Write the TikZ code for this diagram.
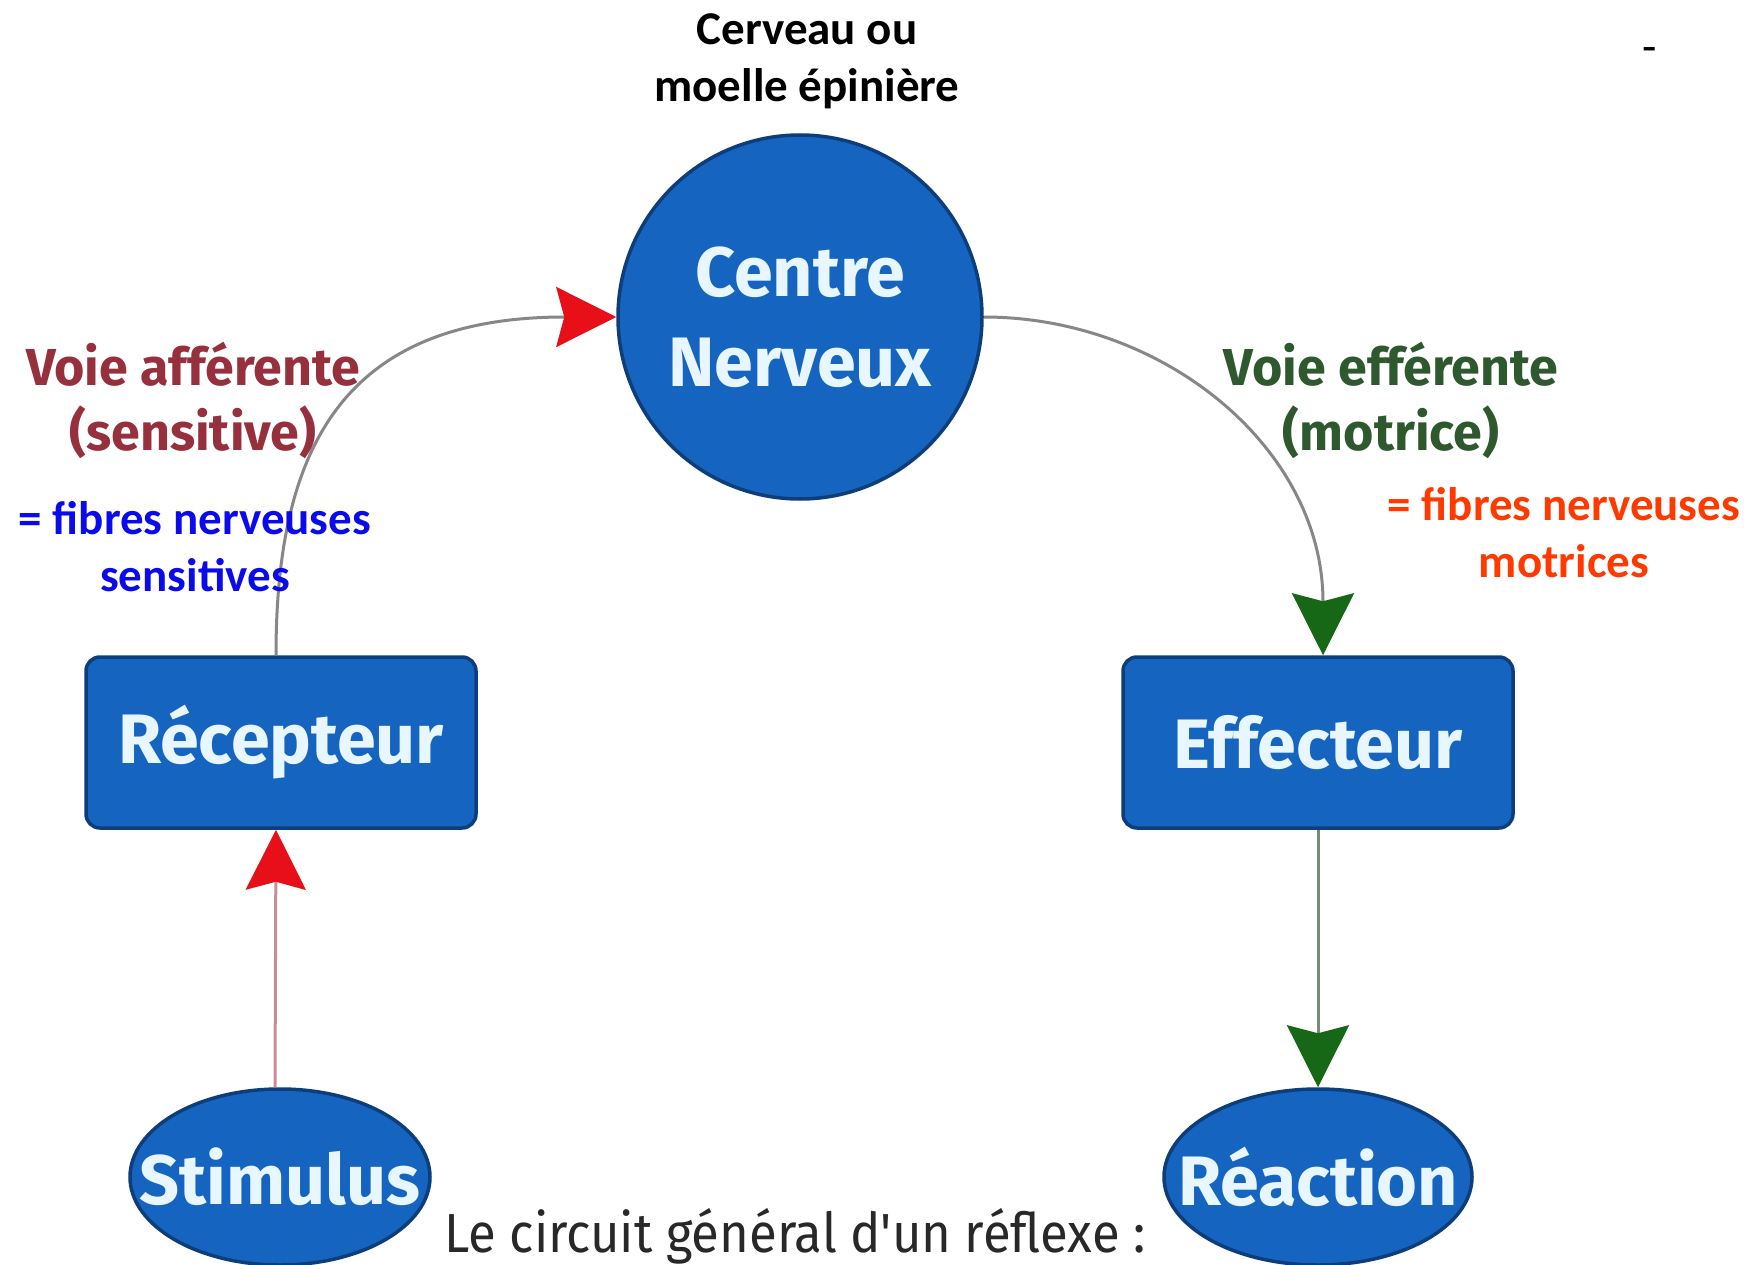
\documentclass[tikz,border=0pt]{standalone}
\usepackage{graphicx}
\usepackage{fontspec}
\setmainfont{Carlito}
\newfontfamily\labfont{Fira Sans}
\usetikzlibrary{arrows.meta,shapes.geometric}
\definecolor{nodeblue}{RGB}{21,101,192}
\definecolor{nodeborder}{RGB}{14,62,122}
\definecolor{nodetext}{RGB}{232,246,255}
\definecolor{affred}{RGB}{150,48,60}
\definecolor{effgreen}{RGB}{46,88,46}
\definecolor{annblue}{RGB}{10,10,235}
\definecolor{annorange}{RGB}{255,58,0}
\definecolor{tipred}{RGB}{232,16,24}
\definecolor{tipgreen}{RGB}{22,104,22}
\definecolor{linegrey}{RGB}{135,135,135}
\definecolor{linepink}{RGB}{200,140,150}
\definecolor{linegreen}{RGB}{120,138,120}
\definecolor{captiongrey}{RGB}{40,40,40}
\newcommand{\sqz}[2]{\scalebox{#1}[1]{#2}}
\begin{document}
\begin{tikzpicture}[x=1pt,y=-1pt,
  bluenode/.style={fill=nodeblue, draw=nodeborder, line width=3.5pt, text=nodetext, inner sep=0pt,
    font=\labfont\bfseries\fontsize{70}{90}\selectfont},
  boxnode/.style={bluenode, rectangle, rounded corners=14pt, minimum width=390pt, minimum height=171pt},
  ovalnode/.style={bluenode, ellipse, minimum height=176pt},
  conn/.style={line width=3pt},
  redtip/.style={-{Stealth[length=60pt,width=60pt,inset=8pt,color=tipred]}},
  greentip/.style={-{Stealth[length=62pt,width=62pt,inset=8pt,color=tipgreen]}},
  lab/.style={font=\labfont\bfseries\fontsize{52}{65}\selectfont, align=center, inner sep=0pt},
  ann/.style={font=\bfseries\fontsize{47}{57}\selectfont, align=center, inner sep=0pt},
]
\useasboundingbox[fill=white] (0,0) rectangle (1762,1265);

% titles and annotations
\node[ann] (top) at (807,61) {Cerveau ou\\moelle épinière};
\node[font=\fontsize{47}{57}\selectfont, anchor=base, inner sep=0pt] (dash) at (1650,63) {-};

% main nodes
\node[bluenode, circle, minimum size=364pt, align=center] (centre) at (800,317) {Centre\\Nerveux};
\node[boxnode] (rec) at (281,742.5) {Récepteur};
\node[boxnode] (eff) at (1318,742.5) {Effecteur};
\node[ovalnode, minimum width=300pt] (stim) at (280,1177) {\makebox[0pt]{Stimulus}};
\node[ovalnode, minimum width=308pt] (reac) at (1318,1177) {\makebox[0pt]{Réaction}};

% connectors
\draw[conn, draw=linepink, redtip] ([xshift=-5pt]stim.north) -- ([xshift=-5pt]rec.south);
\draw[conn, draw=linegrey, redtip] ([xshift=-5pt]rec.north) .. controls ([xshift=-5pt,yshift=205pt]rec.north) and ([xshift=-275pt]centre.west) .. (centre.west);
\draw[conn, draw=linegrey, greentip] (centre.east) .. controls ([xshift=180pt]centre.east) and ([xshift=5pt,yshift=207pt]eff.north) .. ([xshift=5pt]eff.north);
\draw[conn, draw=linegreen, greentip] (eff.south) -- (reac.north);

% path labels
\node[lab, text=affred] (aff) at (193,400) {Voie afférente\\(sensitive)};
\node[lab, text=effgreen] (efflab) at (1391,400) {Voie efférente\\(motrice)};

\node[ann, text=annblue] (fsens) at (195,547) {= fibres nerveuses\\sensitives};
\node[ann, text=annorange] (fmot) at (1564,533) {= fibres nerveuses\\motrices};

% caption
\node[font=\labfont\fontsize{55}{66}\selectfont, text=captiongrey, inner sep=0pt] (cap) at (795,1236) {\sqz{0.925}{Le circuit général d'un réflexe :}};
\end{tikzpicture}
\end{document}
